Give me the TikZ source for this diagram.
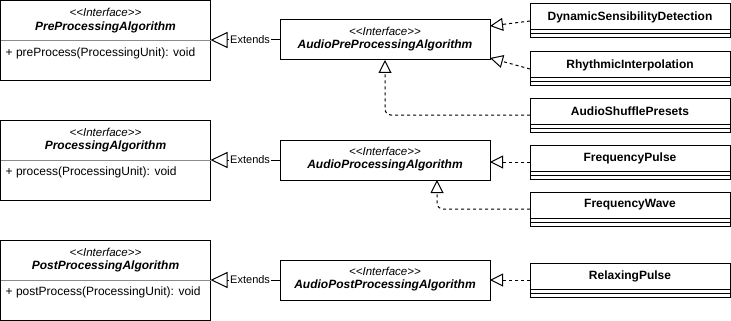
\documentclass[tikz,border=0pt]{standalone}
\usepackage{fontspec}
\setmainfont{Liberation Sans}
\usetikzlibrary{arrows.meta,calc}

\tikzset{
  box/.style={draw=black, line width=1pt, inner sep=0pt, outer sep=0pt, anchor=north west, fill=white},
  iface/.style={box, minimum width=210pt, minimum height=80pt},
  aiface/.style={box, minimum width=210pt, minimum height=40pt},
  cls/.style={box, minimum width=200pt, minimum height=34pt},
  stereo/.style={font=\fontsize{11.5}{13}\selectfont\itshape, inner sep=0pt},
  iname/.style={font=\fontsize{12}{14}\selectfont\bfseries\itshape, inner sep=0pt},
  cname/.style={font=\fontsize{12}{14}\selectfont\bfseries, inner sep=0pt},
  member/.style={font=\fontsize{12}{14}\selectfont, inner sep=0pt, anchor=west},
  divider/.style={draw=black!45, line width=1pt},
  sepline/.style={draw=black, line width=1pt},
  extends/.style={line width=1pt, -{Triangle[open, length=17pt, width=16pt, fill=white]}},
  impl/.style={line width=1pt, dash pattern=on 3pt off 3pt, rounded corners=6pt,
    -{Triangle[open, length=13pt, width=13pt, fill=white]}},
  lbl/.style={font=\fontsize{11}{13}\selectfont, fill=white, inner sep=1pt},
}

\begin{document}
\begin{tikzpicture}[x=1pt, y=-1pt]
\useasboundingbox (0,0) rectangle (731,321);

% generic interfaces (left column)
\foreach \id/\y/\nm/\op in {pre/0.5/PreProcessingAlgorithm/+ preProcess(ProcessingUnit): void,
                            proc/120/ProcessingAlgorithm/+ process(ProcessingUnit): void,
                            post/240/PostProcessingAlgorithm/+ postProcess(ProcessingUnit): void} {
  \node[iface] (\id) at (0.5,\y) {};
  \node[stereo] (\id-st) at ($(\id.north)+(0,12)$) {<{}<Interface>{}>};
  \node[iname] (\id-nm) at ($(\id.north)+(0,26.5)$) {\nm};
  \draw[divider] ($(\id.north west)+(0,40)$) -- ($(\id.north east)+(0,40)$);
  \node[member] (\id-op) at ($(\id.north west)+(5,52.5)$) {\op};
}

% audio interfaces (middle column)
\foreach \id/\y/\nm in {apre/20/AudioPreProcessingAlgorithm,
                        aproc/140/AudioProcessingAlgorithm,
                        apost/260/AudioPostProcessingAlgorithm} {
  \node[aiface] (\id) at (280,\y) {};
  \node[stereo] (\id-st) at ($(\id.north)+(0,11.5)$) {<{}<Interface>{}>};
  \node[iname] (\id-nm) at ($(\id.north)+(0,25.5)$) {\nm};
}

% concrete classes (right column)
\foreach \id/\y/\nm in {dsd/4/DynamicSensibilityDetection,
                        ri/52/RhythmicInterpolation,
                        asp/98/AudioShufflePresets,
                        fp/145/FrequencyPulse,
                        fw/192/FrequencyWave,
                        rp/263/RelaxingPulse} {
  \node[cls] (\id) at (530,\y) {};
  \node[cname] (\id-nm) at ($(\id.north)+(0,13)$) {\nm};
  \draw[sepline] ($(\id.north west)+(0,26)$) -- ($(\id.north east)+(0,26)$);
  \draw[sepline] ($(\id.north west)+(0,30)$) -- ($(\id.north east)+(0,30)$);
}

% generalisation between interfaces
\draw[extends] (apre.west) -- node[lbl, pos=0.43] (ext1) {Extends} (pre.east |- apre.west);
\draw[extends] (aproc.west) -- node[lbl, pos=0.43] (ext2) {Extends} (proc.east |- aproc.west);
\draw[extends] (apost.west) -- node[lbl, pos=0.43] (ext3) {Extends} (post.east |- apost.west);

% realisations
\draw[impl] (dsd.west) -- ($(apre.north east)+(0,6)$);
\draw[impl] (ri.west) -- ($(apre.south east)+(0,-2)$);
\draw[impl] (asp.west) -| ($(apre.south west)+(105,0)$);
\draw[impl] (fp.west) -- (fp.west -| aproc.east);
\draw[impl] (fw.west) -| ($(aproc.south west)+(157,0)$);
\draw[impl] (rp.west) -- (rp.west -| apost.east);
\end{tikzpicture}
\end{document}
